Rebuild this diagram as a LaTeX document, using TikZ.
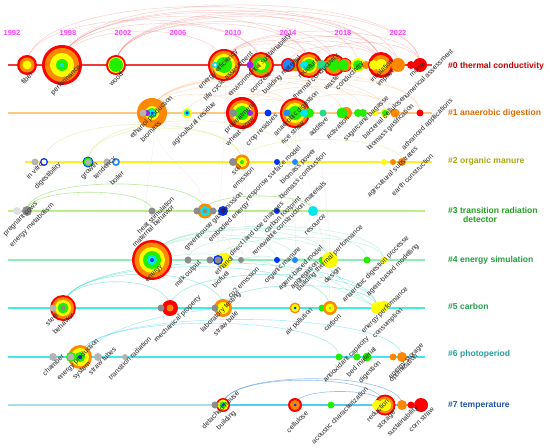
\documentclass[tikz,border=0pt]{standalone}
\usepackage{fontspec}
\setmainfont{Liberation Sans}
\definecolor{cR}{HTML}{FF0000}
\definecolor{cO}{HTML}{FF8800}
\definecolor{cY}{HTML}{FFFF00}
\definecolor{cG}{HTML}{22EE00}
\definecolor{cC}{HTML}{00E8EE}
\definecolor{cB}{HTML}{0033FF}
\definecolor{cL}{HTML}{2288FF}
\definecolor{cP}{HTML}{9922EE}
\definecolor{cT}{HTML}{22DD88}
\definecolor{cGr}{HTML}{B4B4B4}
\definecolor{cGd}{HTML}{8C8C8C}
\definecolor{cGl}{HTML}{E0E0E0}
\definecolor{cN}{HTML}{222288}
\definecolor{yrc}{HTML}{FF44FF}
\definecolor{k0}{HTML}{C00000}
\definecolor{k1}{HTML}{DD6A00}
\definecolor{k2}{HTML}{A8A810}
\definecolor{k3}{HTML}{22A022}
\definecolor{k4}{HTML}{22A040}
\definecolor{k5}{HTML}{22A050}
\definecolor{k6}{HTML}{22A0A0}
\definecolor{k7}{HTML}{2255AA}
\definecolor{t0}{HTML}{EE3A3A}
\definecolor{t1}{HTML}{FFC880}
\definecolor{t2}{HTML}{FFEE22}
\definecolor{t3}{HTML}{BBEE88}
\definecolor{t4}{HTML}{8EEEB4}
\definecolor{t5}{HTML}{40EEDD}
\definecolor{t6}{HTML}{44E6EE}
\definecolor{t7}{HTML}{A4E0F0}
\definecolor{t7b}{HTML}{55CCEE}
\definecolor{q0}{HTML}{F06060}
\definecolor{q1}{HTML}{FFA050}
\definecolor{q2}{HTML}{CCDD55}
\definecolor{q3}{HTML}{88DD55}
\definecolor{q4}{HTML}{55DDAA}
\definecolor{q5}{HTML}{44DDCC}
\definecolor{q6}{HTML}{55DDEE}
\definecolor{q7}{HTML}{5599DD}
\definecolor{qx}{HTML}{999999}
\tikzset{
  pt/.style={circle,inner sep=0pt,minimum size=0pt},
  lbl/.style={font=\fontsize{7}{8}\selectfont,rotate=45,anchor=east,inner sep=0pt,text=black!85},
  yr/.style={font=\fontsize{7.5}{8}\selectfont\bfseries,text=yrc,inner sep=0pt},
  cl/.style={font=\fontsize{8.6}{9.6}\selectfont\bfseries,anchor=west,inner sep=0pt,align=left},
  a0/.style={draw=q0,opacity=0.3,line width=0.5pt},
  a1/.style={draw=q1,opacity=0.3,line width=0.5pt},
  a2/.style={draw=q2,opacity=0.4,line width=0.5pt},
  a3/.style={draw=q3,opacity=0.6,line width=0.6pt},
  a4/.style={draw=q4,opacity=0.35,line width=0.5pt},
  a5/.style={draw=q5,opacity=0.5,line width=0.6pt},
  a6/.style={draw=q6,opacity=0.5,line width=0.6pt},
  a7/.style={draw=q7,opacity=0.6,line width=0.6pt},
  ax/.style={draw=qx,opacity=0.15,line width=0.4pt}
}
\newcommand{\nd}[4]{}
\newcommand{\lb}[4]{\node[lbl] (#1) at (#2,#3) {#4};}
\newcommand{\lnk}[4]{\draw[#1] (#2) .. controls +(0,-#4) and +(0,-#4) .. (#3);}
\newcommand{\tline}[3]{\fill[#1] ([yshift=0.65bp]#2.center) rectangle ([yshift=-0.65bp]#3.center);}
\newcommand{\allnodes}{%
\nd{s0}{8}{65}{}\nd{e0}{432}{65}{}
\nd{s1}{8}{113}{}\nd{e1}{432}{113}{}
\nd{s2}{25}{162}{}\nd{e2}{432}{162}{}
\nd{s3}{8}{211}{}\nd{e3}{425}{211}{}
\nd{s4}{8}{260}{}\nd{e4}{425}{260}{}
\nd{s5}{8}{308}{}\nd{e5}{425}{308}{}
\nd{s6}{8}{357}{}\nd{e6}{425}{357}{}
\nd{s7}{8}{405}{}\nd{e7}{425}{405}{}
% row 0
\nd{n0a}{27}{65}{10/cR,7.5/cO,4.5/cY}
\nd{n0b}{62}{65}{20/cR,17/cO,12/cY,6/cG,2/cC}
\nd{n0c}{116}{65}{10/cR,8/cY,7/cG}
\nd{n0d}{224}{65}{16/cR,14/cO,11/cY,8/cG}
\nd{n0d2}{215}{65}{3.2/cC,1.6/white}
\nd{n0e}{261}{65}{13/cR,11/cO,8/cG,5/cY}
\nd{n0e2}{250}{65}{3.5/cP}
\nd{n0f2}{295}{65}{6/cO,4/cG}
\nd{n0f}{288}{65}{7/cR,5.5/cL}
\nd{n0g}{309}{65}{13/cR,11/cO,8/cY,6/cG}
\nd{n0g2}{304}{65}{4/cC}
\nd{n0i}{334}{65}{11/cR,9/cO,6/cG}
\nd{n0h}{322}{65}{5/cT}
\nd{n0j2}{345}{65}{7/cR,6/cO}
\nd{n0j3}{343}{65}{5.5/cG}
\nd{n0j}{358}{65}{7/cY,5/cG}
\nd{n0k2}{366}{65}{4/cO}
\nd{n0k}{381}{65}{13/cR,10/cO,6/cY}
\nd{n0k3}{374}{65}{5/cY}
\nd{n0l}{398}{65}{7/cO}
\nd{n0m}{411}{65}{4/cR}
\nd{n0n}{420}{65}{7/cR}
% row 1
\nd{n1a}{152}{113}{15/cO,7/cY,5/cG,3.5/cC,1.5/cB}
\nd{n1a2}{147}{113}{3/cP}
\nd{n1a3}{143}{113}{3.5/cGr}
\nd{n1b}{187}{113}{5/cY,3/cC,1.5/cB}
\nd{n1c}{242}{113}{16/cR,13/cO,10/cY,7/cG}
\nd{n1c2}{233}{113}{4/cGd}
\nd{n1c3}{250}{113}{3/cP}
\nd{n1d}{268}{113}{3.5/cB}
\nd{n1e}{295}{113}{15/cR,13/cO,10/cY,7/cG}
\nd{n1e2}{287}{113}{3.5/cL}
\nd{n1e3}{309}{113}{5/cG}
\nd{n1e4}{304}{113}{4/cC}
\nd{n1f}{323}{113}{3.5/cT}
\nd{n1g2}{346}{113}{6/cO}
\nd{n1g}{342}{113}{5.5/cG}
\nd{n1h}{358}{113}{4/cG}
\nd{n1i}{363}{113}{4/cG}
\nd{n1j}{375}{113}{3/cY}
\nd{n1k}{385}{113}{4.5/cY,3/cG}
\nd{n1l}{395}{113}{4.5/cO}
\nd{n1m}{420}{113}{3.5/cR}
% row 2
\nd{n2a}{35}{162}{3.5/cGr}
\nd{n2b}{44}{162}{4/cB,2.5/white}
\nd{n2c}{88}{162}{5.5/cB,4.5/cG,3/cGr}
\nd{n2d}{107}{162}{3.5/cGr}
\nd{n2e}{116}{162}{4/cL,2/white}
\nd{n2f}{242}{162}{7.5/cO,5/cY,2/cG}
\nd{n2f2}{233}{162}{4/cGd}
\nd{n2g}{277}{162}{3/cB}
\nd{n2h}{295}{162}{3/cL}
\nd{n2i}{384}{162}{3/cY}
\nd{n2j}{393}{162}{3/cO}
\nd{n2k}{402}{162}{4/cO}
% row 3
\nd{n3a}{17}{211}{4/cGl}
\nd{n3b}{27}{211}{5/cGd}
\nd{n3c}{152}{211}{3.5/cGd}
\nd{n3d}{205}{211}{7.5/cO,5/cC,2.5/cGd}
\nd{n3d2}{197}{211}{3.5/cGd}
\nd{n3e}{213}{211}{3.5/cGd}
\nd{n3f}{223}{211}{5/cB,3/cN}
\nd{n3g}{277}{211}{3/cB}
\nd{n3h}{313}{211}{5/cC}
% row 4
\nd{n4a}{152}{260}{20/cR,17.5/cO,13/cY,9/cG,5/cC,2/cB}
\nd{n4b}{188}{260}{3.5/cGd}
\nd{n4x}{210}{260}{3.5/cGd}
\nd{n4cc}{224}{260}{7.5/cY}
\nd{n4c}{218}{260}{5/cB,3.5/cGd}
\nd{n4d}{241}{260}{3/cGd}
\nd{n4e}{277}{260}{3/cB}
\nd{n4f}{295}{260}{3/cL}
\nd{n4g}{322}{260}{3.5/cG}
\nd{n4h}{330}{260}{8/cY}
\nd{n4i}{367}{260}{3.5/cG}
\nd{n4j}{384}{260}{3.5/cY}
% row 5
\nd{n5a}{63}{308}{13/cR,11/cO,8/cY,5.5/cG,2.5/cGd}
\nd{n5s}{53}{308}{3.5/cGr}
\nd{n5b}{170}{308}{8/cR,3.5/cO}
\nd{n5bg}{161}{308}{3.5/cGd}
\nd{n5c}{223}{308}{9/cO,6/cY}
\nd{n5cg}{215}{308}{3.5/cGd}
\nd{n5d}{295}{308}{5.5/cO,4/cY,1.5/cB}
\nd{n5e}{322}{308}{3.5/cG}
\nd{n5f}{330}{308}{7/cO,4.5/cY,1.2/cG}
\nd{n5g2}{384}{306}{5.5/cY}
\nd{n5g}{377}{308}{6/cY}
% row 6
\nd{n6a}{53}{357}{4/cGr}
\nd{n6c}{80}{357}{12/cO,9/cY,5/cG,2/cB}
\nd{n6b}{71}{357}{5/cG,3.5/cGr}
\nd{n6d}{98}{357}{4/cGr}
\nd{n6e}{125}{357}{3/cGr}
\nd{n6f}{339}{357}{3.5/cG}
\nd{n6g}{357}{357}{3.5/cG}
\nd{n6h}{367}{357}{4.5/cG}
\nd{n6i}{393}{357}{3.5/cO}
\nd{n6j}{402}{357}{5/cO}
% row 7
\nd{n7a}{223}{405}{7/cR,5.5/cY,3.5/cG,1.5/cB}
\nd{n7g}{215}{405}{3.5/cGd}
\nd{n7b}{295}{405}{7/cR,5/cO,1.5/cB}
\nd{n7c}{331}{405}{3.5/cG}
\nd{n7d}{385}{405}{10.5/cR,8.5/cO,6/cY}
\nd{n7d2}{377}{405}{5/cY}
\nd{n7e}{402}{405}{5/cO}
\nd{n7f}{411}{405}{3.5/cR}
\nd{n7h}{421}{405}{7/cR}
}
\begin{document}
\begin{tikzpicture}[x=1bp,y=-1bp]
\useasboundingbox (0,0) rectangle (550,448);
\fill[white] (0,0) rectangle (550,448);
% pass 1: names
\renewcommand{\nd}[4]{\node[pt] (#1) at (#2,#3) {};}
\allnodes
% timelines
\tline{t0}{s0}{e0}
\tline{t1}{s1}{e1}
\tline{t2}{s2}{e2}
\tline{t3}{s3}{e3}
\tline{t4}{s4}{e4}
\tline{t5}{s5}{e5}
\tline{t6}{s6}{e6}
\tline{t7}{s7}{n7a}
\tline{t7b}{n7a}{e7}
% faint cross links
\draw[ax] (n1a) .. controls +(10,30) and +(-20,-40) .. (n4a);
\draw[ax] (n0d) .. controls +(5,40) and +(0,-60) .. (n4c);
\draw[ax] (n1c) .. controls +(0,40) and +(10,-50) .. (n4d);
\draw[ax] (n1e) .. controls +(0,40) and +(0,-50) .. (n4f);
\draw[ax] (n2f) .. controls +(10,40) and +(-10,-50) .. (n5c);
\draw[ax] (n1e) .. controls +(10,60) and +(0,-60) .. (n5f);
\draw[ax] (n0g) .. controls +(5,60) and +(0,-60) .. (n4h);
\draw[ax] (n3d) .. controls +(10,30) and +(-10,-30) .. (n5d);
\draw[ax] (n1a) .. controls +(0,50) and +(0,-40) .. (n3d);
% row 0 arcs
\lnk{a0}{n0b}{n0k}{73}
\lnk{a0}{n0b}{n0n}{80}
\lnk{a0}{n0b}{n0g}{65}
\lnk{a0}{n0b}{n0d}{45}
\lnk{a0}{n0b}{n0e}{55}
\lnk{a0}{n0b}{n0j}{70}
\lnk{a0}{n0c}{n0g}{55}
\lnk{a0}{n0c}{n0k}{65}
\lnk{a0}{n0c}{n0i}{58}
\lnk{a0}{n0c}{n0l}{68}
\lnk{a0}{n0a}{n0e}{60}
\lnk{a0}{n0a}{n0k}{78}
\lnk{a0}{n0d}{n0k}{40}
\lnk{a0}{n0d}{n0g}{28}
\lnk{a0}{n0d}{n0n}{45}
\lnk{a0}{n0e}{n0k}{32}
\lnk{a0}{n0e}{n0l}{38}
\lnk{a0}{n0f}{n0k}{25}
\lnk{a0}{n0g}{n0n}{30}
\lnk{a0}{n0d}{n0i}{33}
\lnk{a0}{n0c}{n0n}{72}
% row 1
\lnk{a1}{n1a}{n1e}{35}
\lnk{a1}{n1a}{n1g}{45}
\lnk{a1}{n1a}{n1k}{50}
\lnk{a1}{n1a}{n1m}{55}
\lnk{a1}{n1a}{n1c}{25}
\lnk{a1}{n1c}{n1k}{35}
\lnk{a1}{n1c}{n1e}{18}
\lnk{a1}{n1e}{n1l}{25}
\lnk{a1}{n1b}{n1e}{25}
\lnk{a1}{n1c}{n1m}{45}
\lnk{a1}{n1a}{n1i}{48}
% row 2
\lnk{a2}{n2c}{n2f}{45}
\lnk{a2}{n2b}{n2f}{50}
\lnk{a2}{n2c}{n2h}{55}
\lnk{a2}{n2f}{n2k}{30}
% row 3
\lnk{a3}{n3b}{n3c}{25}
\lnk{a3}{n3b}{n3d}{36}
\lnk{a3}{n3d}{n3h}{20}
% row 4
\lnk{a4}{n4a}{n4h}{40}
\lnk{a4}{n4a}{n4e}{30}
\lnk{a4}{n4a}{n4j}{45}
\lnk{a4}{n4a}{n4i}{42}
\lnk{a4}{n4b}{n4h}{30}
\lnk{a4}{n4c}{n4j}{30}
\lnk{a4}{n4a}{n4f}{33}
\draw[a4] (n4d) .. controls +(40,-15) and +(-50,-30) .. (n5g);
\draw[a4] (n4f) .. controls +(30,-10) and +(-40,-25) .. (n5g);
\draw[a4] (n4a) .. controls +(80,-20) and +(-70,-35) .. (n5g);
% row 5
\lnk{a5}{n5a}{n5b}{35}
\lnk{a5}{n5a}{n5c}{45}
\lnk{a5}{n5a}{n5g}{60}
\lnk{a5}{n5a}{n5f}{55}
\lnk{a5}{n5c}{n5g}{30}
\lnk{a5}{n5b}{n5g}{45}
% row 6
\draw[a6] (n6c) .. controls +(30,-35) and +(-50,5) .. (n5c);
\lnk{a6}{n6c}{n6j}{50}
\lnk{a6}{n6c}{n6f}{45}
% row 7
\lnk{a7}{n7a}{n7d}{33}
\lnk{a7}{n7a}{n7e}{35}
\lnk{a7}{n7b}{n7d}{18}
% pass 2: discs
\renewcommand{\nd}[4]{\foreach \rr/\cc in {#4}{\fill[\cc] (#2,#3) circle[radius=\rr];}}
\allnodes
% years
\node[yr] (y1) at (12,33) {1992};
\node[yr] (y2) at (68,33) {1998};
\node[yr] (y3) at (123,33) {2002};
\node[yr] (y4) at (178,33) {2006};
\node[yr] (y5) at (233,33) {2010};
\node[yr] (y6) at (288,33) {2014};
\node[yr] (y7) at (343,33) {2018};
\node[yr] (y8) at (398,33) {2022};
% labels row 0
\lb{l0a}{32}{73}{fiber}
\lb{l0b}{80}{66}{performance}
\lb{l0c}{122}{73}{wood}
\lb{l0d}{237}{51}{energy efficiency}
\lb{l0e}{252}{53}{life cycle assessment}
\lb{l0f}{290}{35}{environmental sustainability}
\lb{l0g}{270}{73}{concrete}
\lb{l0h}{300}{57}{building material}
\lb{l0i}{318}{58}{moisture}
\lb{l0j}{338}{55}{thermal conductivity}
\lb{l0k}{338}{76}{waste}
\lb{l0l}{363}{63}{conductivity}
\lb{l0m}{392}{60}{insulation}
\lb{l0n}{393}{71}{impact}
\lb{l0o}{425}{62}{mortar}
\lb{l0p}{452}{50}{numerical assessment}
% row 1
\lb{l1a}{172}{97}{ethanol production}
\lb{l1b}{160}{122}{biomass}
\lb{l1c}{215}{103}{agricultural residue}
\lb{l1d}{254}{104}{pretreatment}
\lb{l1e}{253}{118}{wheat straw}
\lb{l1f}{277}{115}{crop residues}
\lb{l1g}{318}{92}{anaerobic digestion}
\lb{l1h}{303}{122}{rice straw}
\lb{l1i}{327}{118}{additive}
\lb{l1j}{348}{117}{activation}
\lb{l1k}{388}{97}{sugarcane bagasse}
\lb{l1l}{403}{98}{bacterial cellulose}
\lb{l1m}{413}{105}{biomass gasification}
\lb{l1n}{452}{100}{advanced applications}
% row 2
\lb{l2a}{42}{163}{in vitro}
\lb{l2b}{60}{164}{digestibility}
\lb{l2c}{97}{163}{growth}
\lb{l2d}{115}{158}{tendency}
\lb{l2e}{123}{172}{boiler}
\lb{l2f}{240}{166}{soil}
\lb{l2g}{253}{168}{emission}
\lb{l2h}{300}{147}{response surface model}
\lb{l2i}{315}{150}{biomass power}
\lb{l2j}{325}{153}{biomass combustion}
\lb{l2k}{417}{148}{agricultural substrates}
\lb{l2l}{432}{155}{earth construction}
% row 3
\lb{l3a}{37}{203}{pregnant cows}
\lb{l3b}{53}{204}{energy metabolism}
\lb{l3c}{173}{198}{heat stimulation}
\lb{l3d}{173}{206}{maternal behavior}
\lb{l3e}{242}{193}{greenhouse gas emission}
\lb{l3f}{248}{203}{embodied energy}
\lb{l3g}{283}{203}{direct land use changes}
\lb{l3h}{300}{198}{carbon footprint}
\lb{l3i}{325}{182}{renewable construction materials}
\lb{l3j}{325}{215}{resource}
% row 4
\lb{l4a}{162}{266}{energy}
\lb{l4b}{200}{262}{milk output}
\lb{l4c}{232}{257}{ethanol}
\lb{l4d}{228}{272}{biofuel}
\lb{l4e}{258}{268}{co2 emission}
\lb{l4f}{300}{248}{organic manure}
\lb{l4g}{322}{247}{agent-based model}
\lb{l4h}{318}{262}{aggregation}
\lb{l4i}{362}{226}{building thermal performance}
\lb{l4j}{340}{268}{design}
\lb{l4k}{408}{237}{anaerobic digestion processe}
\lb{l4l}{418}{245}{agent-based modelling}
% row 5
\lb{l5a}{57}{314}{steel}
\lb{l5b}{73}{314}{behavior}
\lb{l5c}{200}{297}{mechanical property}
\lb{l5d}{240}{293}{laboratory testing}
\lb{l5e}{237}{312}{straw bale}
\lb{l5f}{312}{309}{air pollution}
\lb{l5g}{340}{315}{carbon}
\lb{l5h}{407}{288}{energy performance}
\lb{l5i}{402}{309}{consumption}
% row 6
\lb{l6a}{63}{355}{chamber}
\lb{l6b}{98}{340}{energy production}
\lb{l6c}{90}{363}{system}
\lb{l6d}{115}{348}{straw tubes}
\lb{l6e}{150}{338}{transition radiation}
\lb{l6f}{368}{338}{antioxidant capacity}
\lb{l6g}{375}{348}{bed material}
\lb{l6h}{380}{362}{digestion}
\lb{l6i}{423}{345}{energy storage}
\lb{l6j}{417}{355}{optimization}
% row 7
\lb{l7a}{238}{392}{detached house}
\lb{l7b}{235}{412}{building}
\lb{l7c}{307}{412}{cellulose}
\lb{l7d}{367}{388}{acoustic characterization}
\lb{l7e}{388}{400}{reduction}
\lb{l7f}{395}{412}{storage}
\lb{l7g}{417}{407}{sustainability}
\lb{l7h}{433}{408}{corn straw}
% cluster labels
\node[cl,text=k0] (c0) at (448,66) {\#0 thermal conductivity};
\node[cl,text=k1] (c1) at (448,113) {\#1 anaerobic digestion};
\node[cl,text=k2] (c2) at (448,161) {\#2 organic manure};
\node[cl,text=k3] (c3) at (448,215) {\#3 transition radiation\\\hspace*{15pt}detector};
\node[cl,text=k4] (c4) at (448,260) {\#4 energy simulation};
\node[cl,text=k5] (c5) at (448,306) {\#5 carbon};
\node[cl,text=k6] (c6) at (448,354) {\#6 photoperiod};
\node[cl,text=k7] (c7) at (448,405) {\#7 temperature};
\end{tikzpicture}
\end{document}
